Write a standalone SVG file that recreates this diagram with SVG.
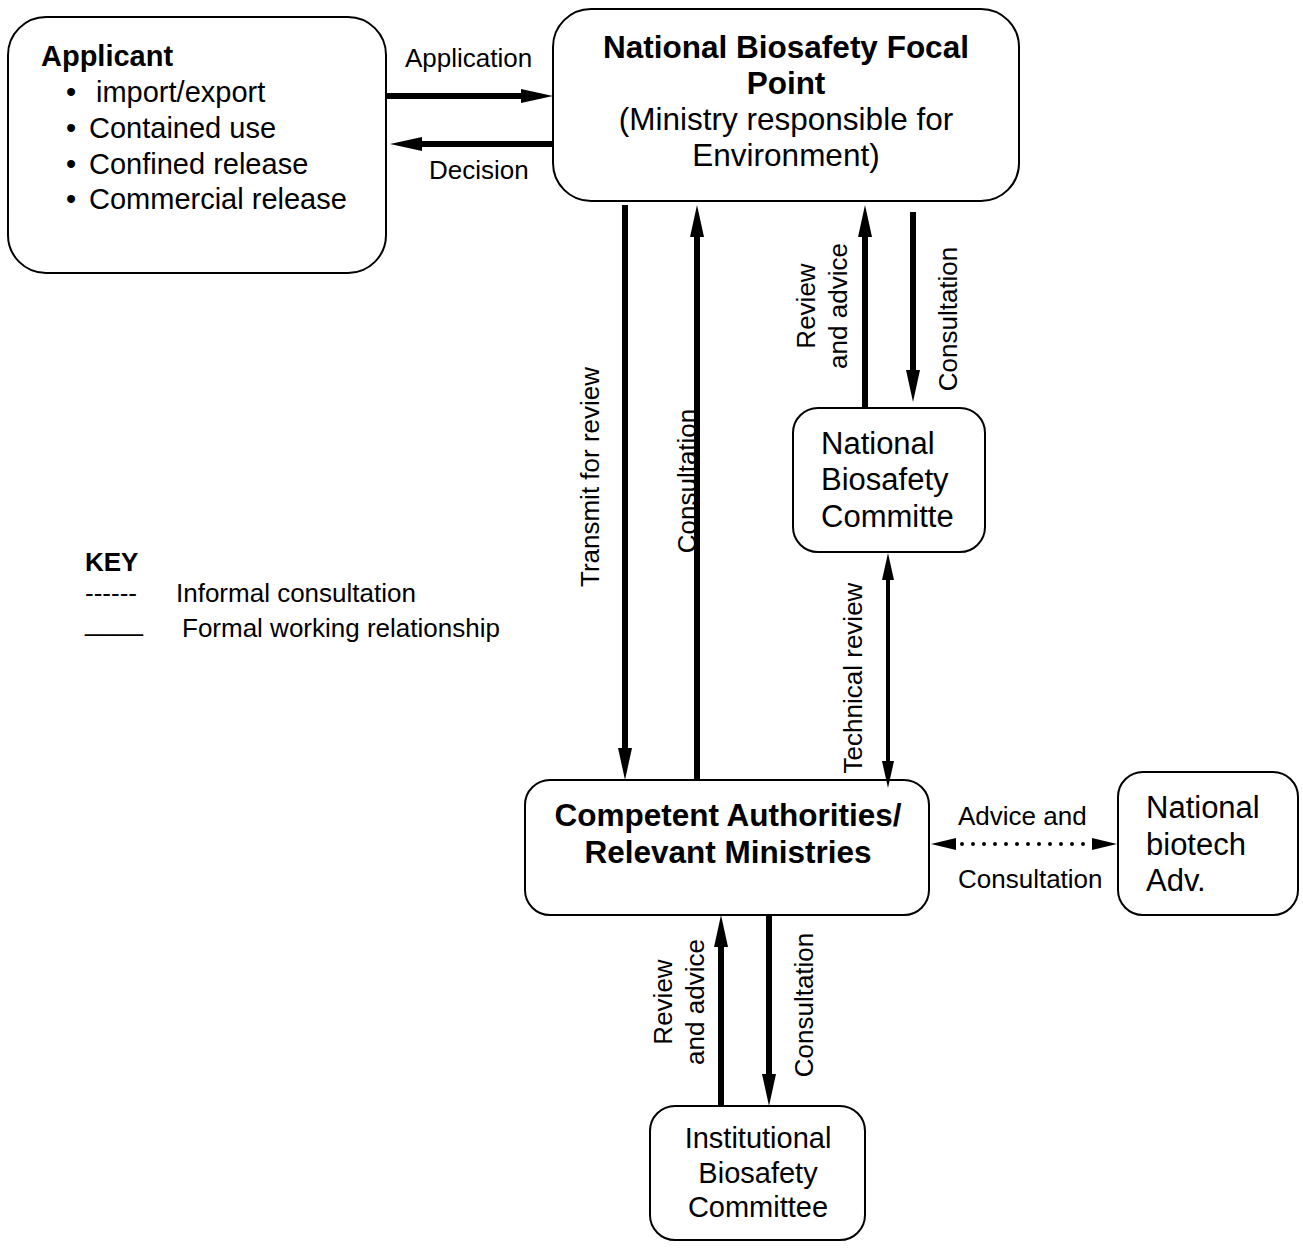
<svg xmlns="http://www.w3.org/2000/svg" width="1303" height="1248" viewBox="0 0 1303 1248">
<style>
text{font-family:"Liberation Sans",Arial,sans-serif;fill:#000}
.box{fill:#fff;stroke:#000;stroke-width:2}
.b{font-weight:bold}
.lbl{font-size:26px}
.thick{stroke:#000;stroke-width:6;fill:none}
.thin{stroke:#000;stroke-width:4;fill:none}
.dot{stroke:#000;stroke-width:4;stroke-linecap:round;stroke-dasharray:0 11;fill:none}
</style>
<defs>
<marker id="ah" markerUnits="userSpaceOnUse" markerWidth="32" markerHeight="14" refX="12" refY="7" orient="auto" overflow="visible"><path d="M0,0 L32,7 L0,14 Z"/></marker>
<marker id="ah2" markerUnits="userSpaceOnUse" markerWidth="27" markerHeight="12" refX="7" refY="6" orient="auto-start-reverse" overflow="visible"><path d="M0,0 L27,6 L0,12 Z"/></marker>
<marker id="ah3" markerUnits="userSpaceOnUse" markerWidth="25" markerHeight="12" refX="5" refY="6" orient="auto-start-reverse" overflow="visible"><path d="M0,0 L25,6 L0,12 Z"/></marker>
</defs>
<rect width="1303" height="1248" fill="#fff"/>

<g id="applicant">
<rect class="box" x="8" y="17" width="378" height="256" rx="38"/>
<text class="b" x="41" y="66" font-size="29">Applicant</text>
<text font-size="29" y="102"><tspan x="66">•</tspan><tspan x="96">import/export</tspan></text>
<text font-size="29" y="138"><tspan x="66">•</tspan><tspan x="89">Contained use</tspan></text>
<text font-size="29" y="174"><tspan x="66">•</tspan><tspan x="89">Confined release</tspan></text>
<text font-size="29" y="209"><tspan x="66">•</tspan><tspan x="89">Commercial release</tspan></text>
</g>

<g id="nbfp">
<rect class="box" x="553" y="9" width="466" height="192" rx="38"/>
<text class="b" x="786" y="58" font-size="31.5" text-anchor="middle">National Biosafety Focal</text>
<text class="b" x="786" y="94" font-size="31.5" text-anchor="middle">Point</text>
<text x="786" y="130" font-size="31.5" text-anchor="middle">(Ministry responsible for</text>
<text x="786" y="166" font-size="31.5" text-anchor="middle">Environment)</text>
</g>

<g id="nbc">
<rect class="box" x="793" y="408" width="192" height="144" rx="25"/>
<text x="821" y="454" font-size="31">National</text>
<text x="821" y="490" font-size="31">Biosafety</text>
<text x="821" y="527" font-size="31">Committe</text>
</g>

<g id="ca">
<rect class="box" x="525" y="780" width="404" height="135" rx="25"/>
<text class="b" x="728" y="826" font-size="31.5" text-anchor="middle">Competent Authorities/</text>
<text class="b" x="728" y="863" font-size="31.5" text-anchor="middle">Relevant Ministries</text>
</g>

<g id="nba">
<rect class="box" x="1118" y="772" width="180" height="143" rx="25"/>
<text x="1146" y="818" font-size="31">National</text>
<text x="1146" y="855" font-size="31">biotech</text>
<text x="1146" y="891" font-size="31">Adv.</text>
</g>

<g id="ibc">
<rect class="box" x="650" y="1106" width="215" height="134" rx="25"/>
<text x="758" y="1148" font-size="29" text-anchor="middle">Institutional</text>
<text x="758" y="1183" font-size="29" text-anchor="middle">Biosafety</text>
<text x="758" y="1217" font-size="29" text-anchor="middle">Committee</text>
</g>

<g id="key">
<text class="b" x="85" y="571" font-size="26">KEY</text>
<text x="85" y="602" font-size="26">------</text>
<text x="176" y="602" font-size="26">Informal consultation</text>
<text x="85" y="631" font-size="26">____</text>
<text x="182" y="637" font-size="26">Formal working relationship</text>
</g>

<g id="connectors">
<line class="thick" x1="386" y1="96" x2="533" y2="96" marker-end="url(#ah)"/>
<line class="thick" x1="553" y1="144" x2="410" y2="144" marker-end="url(#ah)"/>
<line class="thick" x1="625" y1="205" x2="625" y2="760" marker-end="url(#ah)"/>
<line class="thick" x1="697" y1="780" x2="697" y2="225" marker-end="url(#ah)"/>
<line class="thick" x1="865" y1="408" x2="865" y2="225" marker-end="url(#ah)"/>
<line class="thick" x1="913" y1="212" x2="913" y2="382" marker-end="url(#ah)"/>
<line class="thin" x1="888" y1="573" x2="888" y2="768" marker-start="url(#ah2)" marker-end="url(#ah2)"/>
<line class="dot" x1="951" y1="844" x2="1097" y2="844" marker-start="url(#ah3)" marker-end="url(#ah3)"/>
<line class="thick" x1="721" y1="1106" x2="721" y2="935" marker-end="url(#ah)"/>
<line class="thick" x1="769" y1="915" x2="769" y2="1086" marker-end="url(#ah)"/>

<text class="lbl" x="405" y="67">Application</text>
<text class="lbl" x="429" y="179">Decision</text>
<text class="lbl" text-anchor="middle" transform="translate(599,477) rotate(-90)">Transmit for review</text>
<text class="lbl" text-anchor="middle" transform="translate(696,481) rotate(-90)">Consultation</text>
<text class="lbl" text-anchor="middle" transform="translate(815,306) rotate(-90)">Review</text>
<text class="lbl" text-anchor="middle" transform="translate(847,306) rotate(-90)">and advice</text>
<text class="lbl" text-anchor="middle" transform="translate(957,319) rotate(-90)">Consultation</text>
<text class="lbl" text-anchor="middle" transform="translate(862,678) rotate(-90)">Technical review</text>
<text class="lbl" x="958" y="825">Advice and</text>
<text class="lbl" x="958" y="888">Consultation</text>
<text class="lbl" text-anchor="middle" transform="translate(672,1002) rotate(-90)">Review</text>
<text class="lbl" text-anchor="middle" transform="translate(704,1002) rotate(-90)">and advice</text>
<text class="lbl" text-anchor="middle" transform="translate(813,1005) rotate(-90)">Consultation</text>
</g>
</svg>
